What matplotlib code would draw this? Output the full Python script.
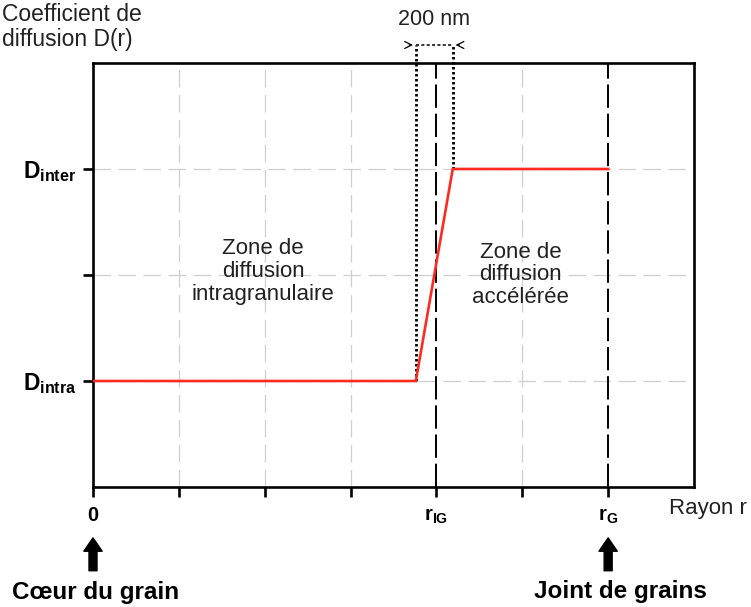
import matplotlib
matplotlib.use("Agg")
import matplotlib.pyplot as plt

plt.rcParams['font.family'] = ['Liberation Sans', 'DejaVu Sans']
plt.rcParams['mathtext.fontset'] = 'custom'
plt.rcParams['mathtext.rm'] = 'Liberation Sans'
plt.rcParams['mathtext.bf'] = 'Liberation Sans:bold'
plt.rcParams['mathtext.it'] = 'Liberation Sans:italic'

# Data (arbitrary units: x in grid steps, y in grid steps)
r_profile = [0.0, 3.76, 4.19, 6.0]
D_profile = [1.0, 1.0, 3.0, 3.0]
x_ticks = [0, 1, 2, 3, 4, 5, 6]
x_ticklabels = [r'$\mathbf{0}$', '', '', '', r'$\mathbf{r_{IG}}$', '', r'$\mathbf{r_{G}}$']
y_ticks = [1, 2, 3]
y_ticklabels = [r'$\mathbf{D_{intra}}$', '', r'$\mathbf{D_{inter}}$']
r_IG = 4.0
r_G = 6.0
zone_edges = [3.76, 4.19]  # 200 nm zone edges
gray_x = [1, 2, 3, 5]
gray_y = [1, 2, 3]

fig = plt.figure(figsize=(7.51, 6.07), dpi=100)
ax = fig.add_axes([93/751, 1-487/607, (694-93)/751, (487-63)/607])
ax.set_xlim(0, 7)
ax.set_ylim(0, 4)

for s in ax.spines.values():
    s.set_linewidth(1.9)
    s.set_color('black')

# gray grid
for gx in gray_x:
    ax.plot([gx, gx], [0, 4], color='#cfcfcf', lw=0.9, dashes=(14, 6), zorder=1)
for gy in gray_y:
    ax.plot([0, 7], [gy, gy], color='#cfcfcf', lw=0.9, dashes=(14, 6), zorder=1)

# black dashed verticals
for vx in [r_IG, r_G]:
    ax.plot([vx, vx], [0, 4], color='black', lw=1.4, dashes=(12, 3), zorder=2)

# red profile
ax.plot(r_profile, D_profile, color='#ff2a1f', lw=1.9, zorder=4, solid_joinstyle='miter')

# dotted lines for 200 nm zone
top_y = 4.17
ax.plot([zone_edges[0], zone_edges[0]], [D_profile[1], top_y], color='black', lw=2.0,
        linestyle=(0, (0.9, 0.9)), clip_on=False, zorder=3)
ax.plot([zone_edges[1], zone_edges[1]], [D_profile[2], top_y], color='black', lw=2.0,
        linestyle=(0, (0.9, 0.9)), clip_on=False, zorder=3)
ax.plot(zone_edges, [top_y, top_y], color='black', lw=1.1, linestyle=(0, (2, 1.5)), clip_on=False)
ax.annotate('', xy=(zone_edges[0], top_y), xytext=(zone_edges[0] - 0.11, top_y),
            arrowprops=dict(arrowstyle='->,head_length=0.5,head_width=0.25', lw=0.9, color='black'),
            annotation_clip=False)
ax.annotate('', xy=(zone_edges[1], top_y), xytext=(zone_edges[1] + 0.11, top_y),
            arrowprops=dict(arrowstyle='->,head_length=0.5,head_width=0.25', lw=0.9, color='black'),
            annotation_clip=False)
ax.text(sum(zone_edges) / 2, 4.41, '200 nm', ha='center', va='center', fontsize=15.5, color='#222222')

# ticks
ax.set_xticks(x_ticks)
ax.set_xticklabels(x_ticklabels, fontsize=14.5)
ax.set_yticks(y_ticks)
ax.set_yticklabels(y_ticklabels, fontsize=16.5)
ax.tick_params(axis='both', direction='out', length=7, width=1.9, color='black', pad=5)
ax.tick_params(axis='x', pad=7)

# zone texts
ax.text(1.98, 2.03, 'Zone de\ndiffusion\nintragranulaire', ha='center', va='center',
        fontsize=16, linespacing=1.12, color='#222222')
ax.text(4.98, 2.0, 'Zone de\ndiffusion\naccélérée', ha='center', va='center',
        fontsize=16, linespacing=1.12, color='#222222')

# axis titles
fig.text(2/751, 1-3/607, 'Coefficient de\ndiffusion D(r)', ha='left', va='top',
         fontsize=16.5, linespacing=1.1, color='#222222')
ax.text(6.71, -0.2, 'Rayon r', ha='left', va='center', fontsize=16, color='#222222', clip_on=False)

# bottom arrows and labels
for ax_x in [0, r_G]:
    ax.annotate('', xy=(ax_x, -0.48), xytext=(ax_x, -0.79),
                arrowprops=dict(arrowstyle='simple,head_width=1.1,head_length=0.8,tail_width=0.48',
                                color='black', shrinkA=0, shrinkB=0, mutation_scale=12),
                annotation_clip=False)
ax.text(0.035, -1.055, 'Cœur du grain', ha='center', va='baseline', fontsize=17.5,
        fontweight='bold', clip_on=False)
ax.text(6.14, -1.045, 'Joint de grains', ha='center', va='baseline', fontsize=17.5,
        fontweight='bold', clip_on=False)

fig.savefig('out.png', dpi=100)
